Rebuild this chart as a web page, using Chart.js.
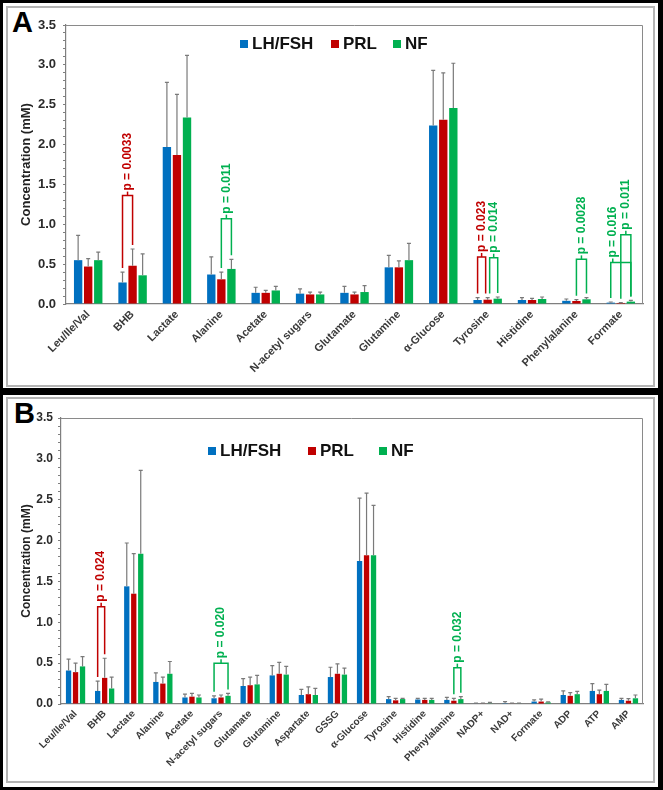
<!DOCTYPE html>
<html>
<head>
<meta charset="utf-8">
<script src="https://cdn.jsdelivr.net/npm/chart.js@4"></script>
<style>
  body { margin: 0; width: 663px; height: 790px; background: #fff; position: relative; overflow: hidden;
         font-family: "Liberation Sans", Arial, sans-serif; }
  .frame { position: absolute; box-sizing: border-box; border: 3px solid #000; border-right-width: 5px; }
  .box { position: absolute; box-sizing: border-box; border: 2px solid #b4b4b4; }
  canvas { position: absolute; }
  .letter { position: absolute; font-weight: bold; font-size: 29px; color: #000; }
  .leg { position: absolute; font-weight: bold; color: #111; white-space: nowrap; }
  .leg i { display: inline-block; width: 8px; height: 8px; margin-right: 4px; vertical-align: 1px; }
</style>
</head>
<body>
<div class="frame" style="left:0;top:0;width:663px;height:391px"></div>
<div class="frame" style="left:0;top:390px;width:663px;height:400px;border-top-width:5px"></div>
<div class="box" style="left:6px;top:6px;width:649px;height:381px"></div>
<div class="box" style="left:6px;top:397px;width:649px;height:386px"></div>
<div class="letter" style="left:12px;top:6px">A</div>
<div class="letter" style="left:14px;top:397px">B</div>
<canvas id="chartA" width="646" height="378" style="left:7px;top:7px"></canvas>
<canvas id="chartB" width="646" height="383" style="left:7px;top:399px"></canvas>
<div class="leg" style="left:240px;top:34px;font-size:17px"><i style="background:#0070c0"></i>LH/FSH</div>
<div class="leg" style="left:331px;top:34px;font-size:17px"><i style="background:#c00000"></i>PRL</div>
<div class="leg" style="left:393px;top:34px;font-size:17px"><i style="background:#00b050"></i>NF</div>
<div class="leg" style="left:208px;top:441px;font-size:17px"><i style="background:#0070c0"></i>LH/FSH</div>
<div class="leg" style="left:308px;top:441px;font-size:17px"><i style="background:#c00000"></i>PRL</div>
<div class="leg" style="left:379px;top:441px;font-size:17px"><i style="background:#00b050"></i>NF</div>
<script>
// ---- Panel A ----
var catsA = ['Leu/Ile/Val','BHB','Lactate','Alanine','Acetate','N-acetyl sugars','Glutamate','Glutamine','\u03b1-Glucose','Tyrosine','Histidine','Phenylalanine','Formate'];
var lhA  = [0.55,0.27,1.97,0.37,0.14,0.13,0.14,0.46,2.24,0.05,0.05,0.04,0.017];
var lhAsd = [0.31,0.13,0.81,0.22,0.07,0.06,0.08,0.15,0.69,0.03,0.03,0.023,0.008];
var prlA = [0.47,0.48,1.87,0.31,0.14,0.12,0.12,0.46,2.31,0.054,0.05,0.038,0.013];
var prlAsd = [0.10,0.21,0.76,0.09,0.03,0.03,0.03,0.08,0.59,0.026,0.02,0.016,0.004];
var nfA  = [0.55,0.36,2.34,0.44,0.17,0.12,0.15,0.55,2.46,0.067,0.063,0.059,0.03];
var nfAsd = [0.10,0.27,0.78,0.12,0.05,0.03,0.08,0.21,0.56,0.021,0.025,0.021,0.015];
// brackets: category index, from series, to series, height (mM), label
var sigA = [
  {cat: 1, from: 0, to: 1, y: 1.36, label: 'p = 0.0033'},
  {cat: 3, from: 1, to: 2, y: 1.07, label: 'p = 0.011'},
  {cat: 9, from: 0, to: 1, y: 0.59, label: 'p = 0.023'},
  {cat: 9, from: 1, to: 2, y: 0.58, label: 'p = 0.014'},
  {cat: 11, from: 1, to: 2, y: 0.56, label: 'p = 0.0028'},
  {cat: 12, from: 0, to: 2, y: 0.52, label: 'p = 0.016'},
  {cat: 12, from: 1, to: 2, y: 0.87, label: 'p = 0.011'}
];

// ---- Panel B ----
var catsB = ['Leu/Ile/Val','BHB','Lactate','Alanine','Acetate','N-acetyl sugars','Glutamate','Glutamine','Aspartate','GSSG','\u03b1-Glucose','Tyrosine','Histidine','Phenylalanine','NADP+','NAD+','Formate','ADP','ATP','AMP'];
var lhB  = [0.41,0.16,1.44,0.27,0.08,0.07,0.22,0.35,0.11,0.33,1.75,0.06,0.055,0.05,0.005,0.01,0.03,0.11,0.16,0.05];
var lhBsd = [0.14,0.12,0.53,0.11,0.04,0.03,0.09,0.12,0.07,0.12,0.77,0.03,0.015,0.03,0.005,0.02,0.02,0.05,0.09,0.02];
var prlB = [0.39,0.32,1.35,0.25,0.09,0.08,0.23,0.37,0.12,0.37,1.82,0.045,0.05,0.04,0.005,0.005,0.03,0.10,0.12,0.04];
var prlBsd = [0.11,0.24,0.49,0.08,0.04,0.03,0.10,0.14,0.09,0.12,0.76,0.025,0.02,0.03,0.005,0.005,0.03,0.04,0.05,0.025];
var nfB  = [0.46,0.19,1.84,0.37,0.08,0.10,0.24,0.36,0.11,0.36,1.82,0.06,0.05,0.06,0.008,0.005,0.02,0.12,0.16,0.07];
var nfBsd = [0.12,0.14,1.02,0.15,0.03,0.03,0.11,0.10,0.08,0.08,0.61,0.01,0.02,0.03,0.012,0.005,0.005,0.035,0.08,0.04];
var sigB = [
  {cat: 1, from: 0, to: 1, y: 1.19, label: 'p = 0.024'},
  {cat: 5, from: 0, to: 2, y: 0.50, label: 'p = 0.020'},
  {cat: 13, from: 1, to: 2, y: 0.445, label: 'p = 0.032'}
];

var colors = ['#0070c0', '#c00000', '#00b050'];
var names = ['LH/FSH', 'PRL', 'NF'];
// where along the bracket the p label sits (default middle)
var labelAt = {'A5': 0.1};

Chart.defaults.font.family = '"Liberation Sans", Arial, sans-serif';

// error bars + significance brackets
var extras = {
  id: 'extras',
  afterDatasetsDraw: function (chart, args, opts) {
    var ctx = chart.ctx, ys = chart.scales.y;
    ctx.save();
    ctx.strokeStyle = '#7a7a7a';
    ctx.lineWidth = 1.2;
    chart.data.datasets.forEach(function (ds, i) {
      var meta = chart.getDatasetMeta(i);
      meta.data.forEach(function (bar, j) {
        var y0 = ys.getPixelForValue(ds.data[j]);
        var y1 = ys.getPixelForValue(ds.data[j] + opts.sd[i][j]);
        ctx.beginPath();
        ctx.moveTo(bar.x, y0); ctx.lineTo(bar.x, y1);
        ctx.moveTo(bar.x - 2, y1); ctx.lineTo(bar.x + 2, y1);
        ctx.stroke();
      });
    });
    // brackets
    ctx.lineWidth = 1.5;
    opts.sig.forEach(function (s, k) {
      var col = colors[s.to];
      var b1 = chart.getDatasetMeta(s.from).data[s.cat];
      var b2 = chart.getDatasetMeta(s.to).data[s.cat];
      var x1 = b1.x, x2 = b2.x;
      // avoid overlapping legs when two brackets share a bar
      opts.sig.forEach(function (o, m) {
        if (m !== k && o.cat === s.cat) {
          if (o.from === s.to && o.to !== s.to) x2 -= 2;
          if (o.to === s.from) x1 += 2;
        }
      });
      var top = ys.getPixelForValue(s.y);
      var l1 = ys.getPixelForValue(chart.data.datasets[s.from].data[s.cat] + opts.sd[s.from][s.cat]) - 4;
      var l2 = ys.getPixelForValue(chart.data.datasets[s.to].data[s.cat] + opts.sd[s.to][s.cat]) - 4;
      ctx.strokeStyle = col;
      ctx.beginPath();
      ctx.moveTo(x1, l1); ctx.lineTo(x1, top); ctx.lineTo(x2, top); ctx.lineTo(x2, l2);
      ctx.stroke();
      var f = labelAt[opts.tag + k];
      var xm = x1 + (x2 - x1) * (f === undefined ? 0.5 : f);
      ctx.beginPath();
      ctx.moveTo(xm, top); ctx.lineTo(xm, top - 4);
      ctx.stroke();
      ctx.save();
      ctx.translate(xm, top - 5);
      ctx.rotate(-Math.PI / 2);
      ctx.fillStyle = col;
      ctx.font = 'bold ' + opts.pfont + 'px "Liberation Sans", Arial, sans-serif';
      ctx.textAlign = 'left';
      ctx.textBaseline = 'middle';
      ctx.fillText(s.label, 0, 0);
      ctx.restore();
    });
    ctx.restore();
  },
  afterDraw: function (chart) {
    var a = chart.chartArea, ctx = chart.ctx;
    ctx.save();
    ctx.strokeStyle = '#8a8a8a';
    ctx.lineWidth = 1;
    ctx.beginPath();
    ctx.moveTo(a.left, a.top + 0.5); ctx.lineTo(a.right - 0.5, a.top + 0.5); ctx.lineTo(a.right - 0.5, a.bottom);
    ctx.stroke();
    ctx.restore();
  }
};

function makeChart(id, cats, series, sds, sig, cfg) {
  return new Chart(document.getElementById(id), {
    type: 'bar',
    data: {
      labels: cats,
      datasets: series.map(function (d, i) {
        return {
          label: names[i], data: d, backgroundColor: colors[i], borderWidth: 0,
          categoryPercentage: cfg.catPct, barPercentage: cfg.barPct
        };
      })
    },
    options: {
      responsive: false,
      animation: false,
      devicePixelRatio: 1,
      layout: { padding: { top: cfg.padTop, right: 10, left: 0, bottom: 0 } },
      plugins: {
        legend: { display: false },
        tooltip: { enabled: false },
        extras: { sd: sds, sig: sig, pfont: cfg.pfont, tag: cfg.tag }
      },
      scales: {
        x: {
          grid: { display: false, drawTicks: false },
          border: { display: true, color: '#7f7f7f', width: 1.2 },
          ticks: {
            autoSkip: false, minRotation: 45, maxRotation: 45, padding: cfg.xPad,
            color: '#3a3a3a', font: { size: cfg.xFont, weight: 'bold' }
          },
          afterFit: function (s) { s.height = cfg.xHeight; }
        },
        y: {
          min: 0, max: 3.5,
          grid: { display: true, drawOnChartArea: false, drawTicks: true, tickLength: 3, color: '#7f7f7f' },
          border: { display: true, color: '#7f7f7f', width: 1.2 },
          ticks: {
            stepSize: 0.1, autoSkip: false, padding: cfg.yPad,
            color: '#2b2b2b', font: { size: cfg.yFont, weight: 'bold' },
            callback: function (v) { return Math.round(v * 10) % 5 === 0 ? v.toFixed(1) : ''; }
          },
          title: {
            display: true, text: 'Concentration (mM)', color: '#222',
            font: { size: cfg.tFont, weight: 'bold' }, padding: { top: 12, bottom: 0 }
          },
          afterFit: function (s) { s.width = cfg.yWidth; }
        }
      }
    },
    plugins: [extras]
  });
}

makeChart('chartA', catsA, [lhA, prlA, nfA], [lhAsd, prlAsd, nfAsd], sigA,
  { catPct: 0.68, barPct: 0.83, padTop: 18, xHeight: 81, yWidth: 59, xPad: 4, xFont: 11, yFont: 13, tFont: 13, yPad: 7, pfont: 12, tag: 'A' });
makeChart('chartB', catsB, [lhB, prlB, nfB], [lhBsd, prlBsd, nfBsd], sigB,
  { catPct: 0.72, barPct: 0.76, padTop: 19, xHeight: 78, yWidth: 54, xPad: 4, xFont: 10, yFont: 12, tFont: 12, yPad: 5, pfont: 12, tag: 'B' });
</script>
</body>
</html>
